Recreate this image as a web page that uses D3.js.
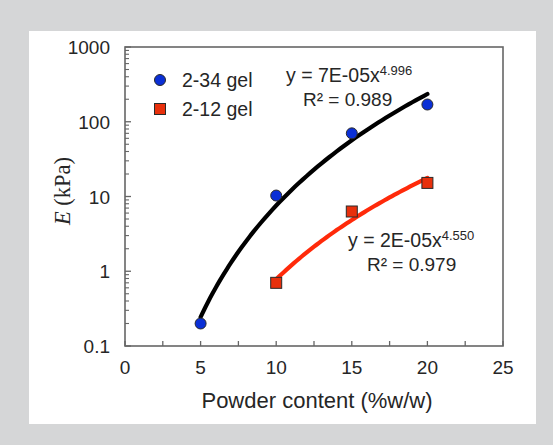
<!DOCTYPE html>
<html>
<head>
<meta charset="utf-8">
<script src="https://cdn.jsdelivr.net/npm/d3@7"></script>
<style>
  body { margin: 0; background: #d5d6d7; }
  svg { display: block; }
</style>
</head>
<body>
<svg id="chart" width="553" height="445"></svg>
<script>
// data
const xTicks = [0, 5, 10, 15, 20, 25];
const yTicks = [0.1, 1, 10, 100, 1000];

const gel34X = [5, 10, 15, 20];
const gel34Y = [0.2, 10.3, 70, 170];

const gel12X = [10, 15, 20];
const gel12Y = [0.7, 6.3, 15.2];

const seriesNames = ["2-34 gel", "2-12 gel"];
const eqText34 = ["y = 7E-05x", "4.996", "R² = 0.989"];
const eqText12 = ["y = 2E-05x", "4.550", "R² = 0.979"];

const svg = d3.select("#chart");

svg.append("rect")
  .attr("x", 0).attr("y", 0).attr("width", 553).attr("height", 445)
  .attr("fill", "#d5d6d7");
svg.append("rect")
  .attr("x", 29).attr("y", 31).attr("width", 507).attr("height", 393)
  .attr("fill", "#ffffff");

const plotL = 125, plotR = 503, plotT = 47, plotB = 346;

const x = d3.scaleLinear().domain([0, 25]).range([plotL, plotR]);
const y = d3.scaleLog().domain([0.1, 1000]).range([plotB, plotT]);

const axisColor = "#666666";
const textColor = "#262626";
const sans = "Liberation Sans, Arial, sans-serif";

// x ticks (inward, every 2.5)
const g = svg.append("g");
g.selectAll(".xt")
  .data(d3.range(0, 25.1, 2.5))
  .enter().append("line")
  .attr("x1", d => x(d)).attr("x2", d => x(d))
  .attr("y1", plotB).attr("y2", plotB - 5)
  .attr("stroke", axisColor).attr("stroke-width", 1.3);

// y ticks (log, inward)
const minorY = [];
yTicks.slice(0, -1).forEach(t => {
  for (let k = 2; k <= 9; k++) minorY.push(t * k);
});
g.selectAll(".ymn")
  .data(minorY)
  .enter().append("line")
  .attr("x1", plotL).attr("x2", plotL + 4)
  .attr("y1", d => y(d)).attr("y2", d => y(d))
  .attr("stroke", axisColor).attr("stroke-width", 1.1);
g.selectAll(".ymj")
  .data(yTicks)
  .enter().append("line")
  .attr("x1", plotL).attr("x2", plotL + 6)
  .attr("y1", d => y(d)).attr("y2", d => y(d))
  .attr("stroke", axisColor).attr("stroke-width", 1.3);

// frame
svg.append("rect")
  .attr("x", plotL).attr("y", plotT)
  .attr("width", plotR - plotL).attr("height", plotB - plotT)
  .attr("fill", "none").attr("stroke", axisColor).attr("stroke-width", 1.6);

// tick labels
svg.selectAll(".xl")
  .data(xTicks)
  .enter().append("text")
  .attr("x", d => x(d)).attr("y", plotB + 28)
  .attr("text-anchor", "middle")
  .attr("font-family", sans)
  .attr("font-size", "19px").attr("fill", textColor)
  .text(d => d);

svg.selectAll(".yl")
  .data(yTicks)
  .enter().append("text")
  .attr("x", plotL - 15).attr("y", d => y(d) + 7)
  .attr("text-anchor", "end")
  .attr("font-family", sans)
  .attr("font-size", "19px").attr("fill", textColor)
  .text(d => d);

// axis titles
svg.append("text")
  .attr("x", (plotL + plotR) / 2 + 3).attr("y", 408)
  .attr("text-anchor", "middle")
  .attr("font-family", sans)
  .attr("font-size", "22px").attr("fill", textColor)
  .text("Powder content (%w/w)");

const yt = svg.append("text")
  .attr("transform", "translate(70,191) rotate(-90)")
  .attr("text-anchor", "middle")
  .attr("font-family", "Liberation Serif, Times New Roman, serif")
  .attr("font-size", "22.5px").attr("fill", textColor);
yt.append("tspan").attr("font-style", "italic").text("E");
yt.append("tspan").text(" (kPa)");

// power-law trendline (least squares on ln x, ln y, like a spreadsheet)
function powerFit(xs, ys) {
  const lx = xs.map(Math.log), ly = ys.map(Math.log);
  const mx = d3.mean(lx), my = d3.mean(ly);
  const b = d3.sum(lx, (v, i) => (v - mx) * (ly[i] - my)) / d3.sum(lx, v => (v - mx) ** 2);
  const a = Math.exp(my - b * mx);
  return v => a * Math.pow(v, b);
}

const line = d3.line().x(d => x(d[0])).y(d => y(d[1])).curve(d3.curveMonotoneX);

function trend(xs, ys, color) {
  const f = powerFit(xs, ys);
  const x0 = d3.min(xs), x1 = d3.max(xs);
  const pts = d3.range(0, 61).map(i => {
    const v = x0 + (x1 - x0) * i / 60;
    return [v, f(v)];
  });
  svg.append("path")
    .attr("d", line(pts))
    .attr("fill", "none").attr("stroke", color)
    .attr("stroke-width", 4.2).attr("stroke-linecap", "round");
}

trend(gel34X, gel34Y, "#000000");
trend(gel12X, gel12Y, "#ff2a0a");

// markers
const blue = "#0a2fd6", red = "#e8300c", edge = "#2a2a2a";

svg.selectAll(".c34")
  .data(gel34X.map((v, i) => [v, gel34Y[i]]))
  .enter().append("circle")
  .attr("cx", d => x(d[0])).attr("cy", d => y(d[1]))
  .attr("r", 5.5)
  .attr("fill", blue).attr("stroke", edge).attr("stroke-width", 1);

svg.selectAll(".s12")
  .data(gel12X.map((v, i) => [v, gel12Y[i]]))
  .enter().append("rect")
  .attr("x", d => x(d[0]) - 5.5).attr("y", d => y(d[1]) - 5.5)
  .attr("width", 11).attr("height", 11)
  .attr("fill", red).attr("stroke", edge).attr("stroke-width", 1);

// legend
svg.append("circle")
  .attr("cx", 160).attr("cy", 80).attr("r", 5.5)
  .attr("fill", blue).attr("stroke", edge).attr("stroke-width", 1);
svg.append("rect")
  .attr("x", 154.5).attr("y", 103.5).attr("width", 11).attr("height", 11)
  .attr("fill", red).attr("stroke", edge).attr("stroke-width", 1);

svg.selectAll(".lg")
  .data(seriesNames)
  .enter().append("text")
  .attr("x", 182).attr("y", (d, i) => 87 + i * 29)
  .attr("font-family", sans)
  .attr("font-size", "19.5px").attr("fill", textColor)
  .text(d => d);

// equations
function equation(eq, x0, y0, rx) {
  const t = svg.append("text")
    .attr("x", x0).attr("y", y0)
    .attr("font-family", sans)
    .attr("font-size", "19.5px").attr("fill", textColor);
  t.append("tspan").text(eq[0]);
  t.append("tspan").attr("dy", -7).attr("font-size", "13px").text(eq[1]);
  svg.append("text")
    .attr("x", rx).attr("y", y0 + 24)
    .attr("font-family", sans)
    .attr("font-size", "19px").attr("fill", textColor)
    .text(eq[2]);
}

equation(eqText34, 286, 82, 303);
equation(eqText12, 348, 247, 367);
</script>
</body>
</html>
